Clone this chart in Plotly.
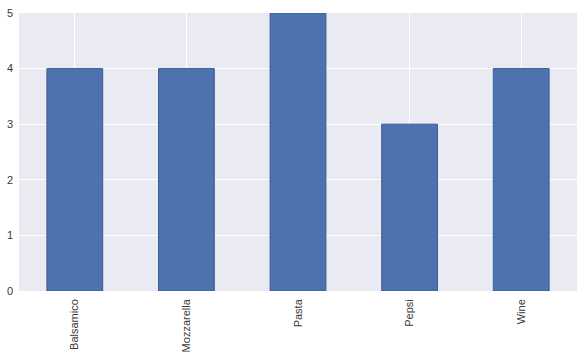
import plotly.graph_objects as go

categories = ["Balsamico", "Mozzarella", "Pasta", "Pepsi", "Wine"]
values = [4, 4, 5, 3, 4]
y_ticks = [0, 1, 2, 3, 4, 5]

fig = go.Figure()
fig.add_trace(go.Bar(
    x=categories, y=values, width=0.5,
    marker=dict(color="#4C72B0", line=dict(color="#3b5d93", width=1)),
))
fig.update_layout(
    width=584, height=356,
    margin=dict(l=19, r=7, t=13, b=65),
    paper_bgcolor="white", plot_bgcolor="#EAEAF2",
    font=dict(family="Liberation Sans, Arial", size=11, color="#262626"),
    showlegend=False, bargap=0.5,
)
fig.update_xaxes(
    showgrid=True, gridcolor="white", gridwidth=1, tickangle=-90,
    ticks="", showline=False, zeroline=False, ticklabelstandoff=5,
    automargin=False,
    tickfont=dict(size=11, color="#3a3a3a"),
)
fig.update_yaxes(
    range=[0, 5], tickvals=y_ticks, showgrid=True, gridcolor="white", gridwidth=1,
    ticks="", showline=False, zeroline=False, ticklabelstandoff=5,
    automargin=False,
    tickfont=dict(size=11, color="#3a3a3a"),
)
fig.write_html("out.html")
